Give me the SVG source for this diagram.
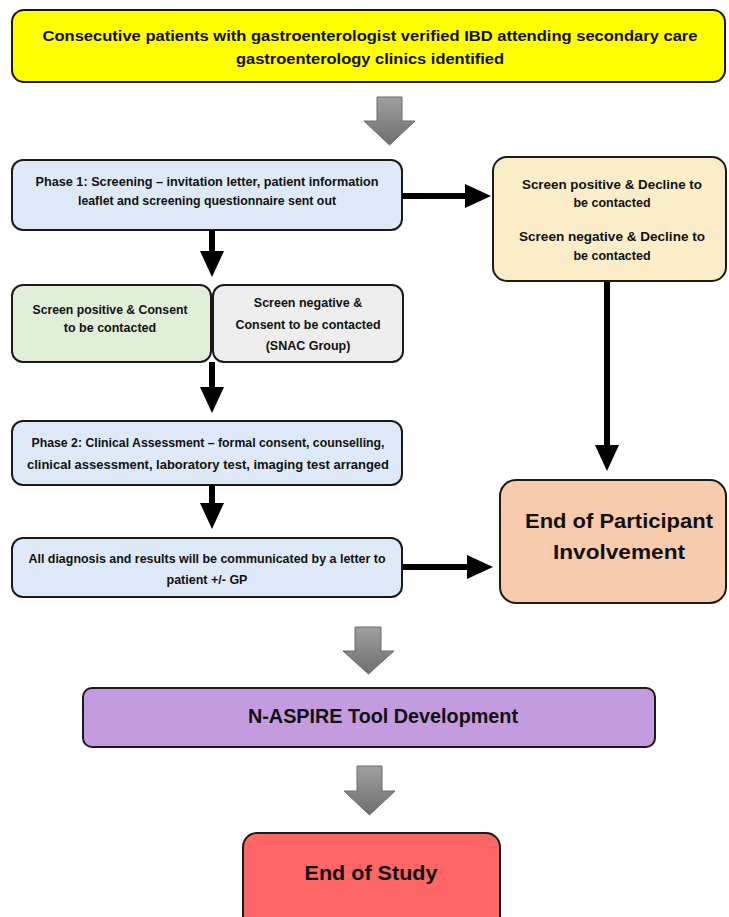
<svg xmlns="http://www.w3.org/2000/svg" width="729" height="917" viewBox="0 0 729 917">
<defs>
<style>
.box{stroke:#1a1a1a;stroke-width:2}
.t{font-family:"Liberation Sans",Arial,sans-serif;font-weight:bold;fill:#111;text-anchor:middle}
.s{font-size:12.5px}
.m{font-size:14px}
.b{font-size:21px}
.con{stroke:#000;stroke-width:6;fill:none}
.gray{fill:url(#gg);stroke:#6a6a6a;stroke-width:1}
</style>
<marker id="ah" markerUnits="userSpaceOnUse" markerWidth="26" markerHeight="26" viewBox="0 0 26 26" refX="2" refY="13" orient="auto">
<path d="M0,1 L26,13 L0,25 Z" fill="#000"/>
</marker>
<linearGradient id="gg" x1="0" y1="0" x2="0" y2="1">
<stop offset="0" stop-color="#a0a0a0"/>
<stop offset="1" stop-color="#6e6e6e"/>
</linearGradient>
</defs>
<rect width="729" height="917" fill="#fff"/>

<g id="n1">
<rect class="box" x="12" y="10" width="713" height="72" rx="12" fill="#ffff00"/>
<text class="t m" x="370" y="41" textLength="655" lengthAdjust="spacingAndGlyphs">Consecutive patients with gastroenterologist verified IBD attending secondary care</text>
<text class="t m" x="370" y="64" textLength="268" lengthAdjust="spacingAndGlyphs">gastroenterology clinics identified</text>
</g>

<g id="phase1">
<rect class="box" x="12" y="160" width="390" height="70" rx="11" fill="#dde9f6"/>
<text class="t s" x="207" y="186" textLength="343" lengthAdjust="spacingAndGlyphs">Phase 1: Screening – invitation letter, patient information</text>
<text class="t s" x="207" y="205" textLength="258" lengthAdjust="spacingAndGlyphs">leaflet and screening questionnaire sent out</text>
</g>

<g id="decline">
<rect class="box" x="493" y="157" width="233" height="124" rx="14" fill="#fcedc9"/>
<text class="t s" x="612" y="189" textLength="180" lengthAdjust="spacingAndGlyphs">Screen positive &amp; Decline to</text>
<text class="t s" x="612" y="207">be contacted</text>
<text class="t s" x="612" y="241" textLength="186" lengthAdjust="spacingAndGlyphs">Screen negative &amp; Decline to</text>
<text class="t s" x="612" y="260">be contacted</text>
</g>

<g id="pos">
<rect class="box" x="12" y="285" width="199" height="77" rx="11" fill="#e2efd8"/>
<text class="t s" x="110" y="314" textLength="155" lengthAdjust="spacingAndGlyphs">Screen positive &amp; Consent</text>
<text class="t s" x="110" y="332">to be contacted</text>
</g>

<g id="neg">
<rect class="box" x="213" y="285" width="190" height="77" rx="11" fill="#ededed"/>
<text class="t s" x="308" y="307">Screen negative &amp;</text>
<text class="t s" x="308" y="329" textLength="145" lengthAdjust="spacingAndGlyphs">Consent to be contacted</text>
<text class="t s" x="308" y="350">(SNAC Group)</text>
</g>

<g id="phase2">
<rect class="box" x="12" y="421" width="390" height="64" rx="11" fill="#dde9f6"/>
<text class="t s" x="208" y="447" textLength="353" lengthAdjust="spacingAndGlyphs">Phase 2: Clinical Assessment – formal consent, counselling,</text>
<text class="t s" x="208" y="469" textLength="362" lengthAdjust="spacingAndGlyphs">clinical assessment, laboratory test, imaging test arranged</text>
</g>

<g id="results">
<rect class="box" x="12" y="538" width="390" height="59" rx="11" fill="#dde9f6"/>
<text class="t s" x="207" y="563" textLength="357" lengthAdjust="spacingAndGlyphs">All diagnosis and results will be communicated by a letter to</text>
<text class="t s" x="207" y="584">patient +/- GP</text>
</g>

<g id="endpart">
<rect class="box" x="500" y="480" width="226" height="123" rx="16" fill="#f8cbad"/>
<text class="t b" x="619" y="528" textLength="188" lengthAdjust="spacingAndGlyphs">End of Participant</text>
<text class="t b" x="619" y="559" textLength="132" lengthAdjust="spacingAndGlyphs">Involvement</text>
</g>

<g id="tool">
<rect class="box" x="83" y="688" width="572" height="59" rx="9" fill="#c39bde"/>
<text class="t" style="font-size:20px" x="383" y="723" textLength="270" lengthAdjust="spacingAndGlyphs">N-ASPIRE Tool Development</text>
</g>

<g id="endstudy">
<rect class="box" x="243" y="833" width="257" height="100" rx="14" fill="#ff6666"/>
<text class="t b" x="371" y="880" textLength="133" lengthAdjust="spacingAndGlyphs">End of Study</text>
</g>

<g id="connectors">
<path class="con" d="M402,196 L467,196" marker-end="url(#ah)"/>
<path class="con" d="M212,230 L212,253" marker-end="url(#ah)"/>
<path class="con" d="M212,362 L212,389" marker-end="url(#ah)"/>
<path class="con" d="M212,485 L212,505" marker-end="url(#ah)"/>
<path class="con" d="M403,567 L469,567" marker-end="url(#ah)"/>
<path class="con" d="M607,282 L607,447" marker-end="url(#ah)"/>
<polygon class="gray" points="377,97 402,97 402,121 415,121 389.5,145 364,121 377,121"/>
<polygon class="gray" points="355,627 381,627 381,651 394,651 368.5,674 343,651 355,651"/>
<polygon class="gray" points="357,766 382,766 382,791 395,791 369.5,815 344,791 357,791"/>
</g>
</svg>
